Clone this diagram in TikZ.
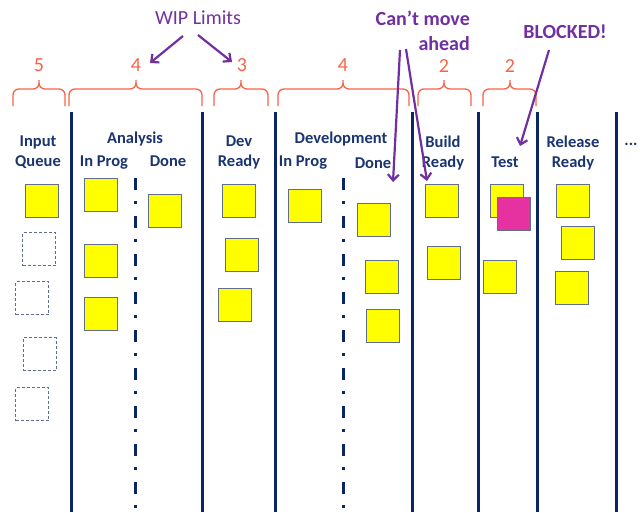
\documentclass[tikz,border=0pt]{standalone}
\usepackage{fontspec}
\setmainfont{Carlito}
\usepackage{tikz}
\usetikzlibrary{arrows.meta}
\definecolor{LaneBlue}{RGB}{10, 38, 100}
\definecolor{HeadBlue}{RGB}{25, 52, 112}
\definecolor{WipRed}{RGB}{247, 98, 72}
\definecolor{NotePurple}{RGB}{112, 48, 160}
\definecolor{CardYellow}{RGB}{255, 255, 0}
\definecolor{CardEdge}{RGB}{96, 110, 140}
\definecolor{BlockPink}{RGB}{230, 50, 160}

\begin{document}
\begin{tikzpicture}[
    x=1pt, y=-1pt,
    lane/.style={draw=LaneBlue, line width=3pt},
    split/.style={draw=LaneBlue, line width=3pt, dash pattern=on 12pt off 11pt on 3pt off 12pt},
    hdr/.style={text=HeadBlue, font=\fontsize{16.5}{20}\selectfont\bfseries, align=center, inner sep=0pt},
    card/.style={rectangle, draw=CardEdge, line width=1.2pt, fill=CardYellow, minimum size=33pt, inner sep=0pt},
    slot/.style={rectangle, draw=CardEdge, line width=0.9pt, dash pattern=on 3pt off 2pt, minimum size=33pt, inner sep=0pt},
    blocked/.style={card, fill=BlockPink},
    wipbrace/.style={draw=WipRed, line width=1.3pt, rounded corners=6pt},
    wipnum/.style={text=WipRed, font=\fontsize{20}{24}\selectfont, inner sep=0pt, anchor=base},
    note/.style={text=NotePurple, font=\fontsize{20}{24.5}\selectfont, inner sep=0pt},
    arrow/.style={draw=NotePurple, line width=2.2pt, -{Straight Barb[length=6pt, width=11pt]}}
]
    \useasboundingbox (0,0) rectangle (640,512);

    % Spalten
    \draw[lane] (71,112) -- (71,512);
    \draw[lane] (202,112) -- (202,512);
    \draw[lane] (275,112) -- (275,512);
    \draw[lane] (412,112) -- (412,512);
    \draw[lane] (478,112) -- (478,512);
    \draw[lane] (537,112) -- (537,512);
    \draw[lane] (616,112) -- (616,512);
    \draw[split] (135,178) -- (135,512);
    \draw[split] (343,178) -- (343,512);

    % Kopfzeilen
    \node[hdr, anchor=north] (inputQueue) at (38,135.5) {Input\\Queue};
    \node[hdr, anchor=base] (analysis) at (135,143) {Analysis};
    \node[hdr, anchor=base] (anaProg) at (104,166) {In Prog};
    \node[hdr, anchor=base] (anaDone) at (168,166) {Done};
    \node[hdr, anchor=north] (devReady) at (239,135.5) {Dev\\Ready};
    \node[hdr, anchor=base] (development) at (341,143) {Development};
    \node[hdr, anchor=base] (devProg) at (303,166) {In Prog};
    \node[hdr, anchor=base] (devDone) at (373,168) {Done};
    \node[hdr, anchor=north] (buildReady) at (443,135.5) {Build\\Ready};
    \node[hdr, anchor=base] (test) at (505,167) {Test};
    \node[hdr, anchor=north] (releaseReady) at (573,135.5) {Release\\Ready};
    \node[hdr, anchor=base] (more) at (631,145) {...};

    % WIP-Grenzen
    \draw[wipbrace] (13,106) |- (39,89) -- (39,80) (65,106) |- (39,89) -- (39,80);
    \draw[wipbrace] (69,106) |- (136,89) -- (136,80) (202,106) |- (136,89) -- (136,80);
    \draw[wipbrace] (214,106) |- (241,89) -- (241,80) (268,106) |- (241,89) -- (241,80);
    \draw[wipbrace] (278,106) |- (343,89) -- (343,80) (409,106) |- (343,89) -- (343,80);
    \draw[wipbrace] (418,106) |- (444,89) -- (444,80) (471,106) |- (444,89) -- (444,80);
    \draw[wipbrace] (483,106) |- (510,89) -- (510,80) (536,106) |- (510,89) -- (510,80);
    \node[wipnum] (limInput) at (39,71.5) {5};
    \node[wipnum] (limAnalysis) at (136,71.5) {4};
    \node[wipnum] (limDevReady) at (242,71.5) {3};
    \node[wipnum] (limDevelopment) at (343,71.5) {4};
    \node[wipnum] (limBuild) at (444,72) {2};
    \node[wipnum] (limTest) at (510,72) {2};

    % Karten
    \node[card] (iq1) at (42,201) {};
    \node[slot] (iq2) at (39,249) {};
    \node[slot] (iq3) at (32,298) {};
    \node[slot] (iq4) at (39.5,354) {};
    \node[slot] (iq5) at (32,404) {};
    \node[card] (ap1) at (101,195) {};
    \node[card] (ap2) at (101,261) {};
    \node[card] (ap3) at (101,314) {};
    \node[card] (ad1) at (165,211) {};
    \node[card] (dr1) at (239,201) {};
    \node[card] (dr2) at (242,255) {};
    \node[card] (dr3) at (235,305) {};
    \node[card] (dp1) at (305,206) {};
    \node[card] (dd1) at (374,220) {};
    \node[card] (dd2) at (382,277) {};
    \node[card] (dd3) at (383,326) {};
    \node[card] (br1) at (442,201) {};
    \node[card] (br2) at (444,263) {};
    \node[card] (ts1) at (507,201) {};
    \node[blocked] (ts2) at (514,214) {};
    \node[card] (ts3) at (500,277) {};
    \node[card] (rr1) at (573,201) {};
    \node[card] (rr2) at (578,243) {};
    \node[card] (rr3) at (572,288) {};

    % Hinweise
    \node[note, anchor=base] (wipLimits) at (198,24.5) {WIP Limits};
    \node[note, anchor=north east, align=right, font=\fontsize{20}{24.5}\selectfont\bfseries] (cantMove) at (470,11) {Can’t move\\ahead};
    \node[note, anchor=base, font=\fontsize{20}{24.5}\selectfont\bfseries] (blockedNote) at (565,38.5) {BLOCKED!};
    \coordinate (wipFromL) at (183,36);
    \coordinate (wipFromR) at (198,35);
    \coordinate (wipToL) at (150,63);
    \coordinate (wipToR) at (232,62);
    \coordinate (stuckFromA) at (400,50);
    \coordinate (stuckFromB) at (406,49);
    \coordinate (stuckToA) at (393,182);
    \coordinate (stuckToB) at (427,181);
    \coordinate (blockFrom) at (549,50);
    \coordinate (blockTo) at (520,146);
    \draw[arrow] (wipFromL) -- (wipToL);
    \draw[arrow] (wipFromR) -- (wipToR);
    \draw[arrow] (stuckFromA) -- (stuckToA);
    \draw[arrow] (stuckFromB) -- (stuckToB);
    \draw[arrow] (blockFrom) -- (blockTo);
\end{tikzpicture}
\end{document}
